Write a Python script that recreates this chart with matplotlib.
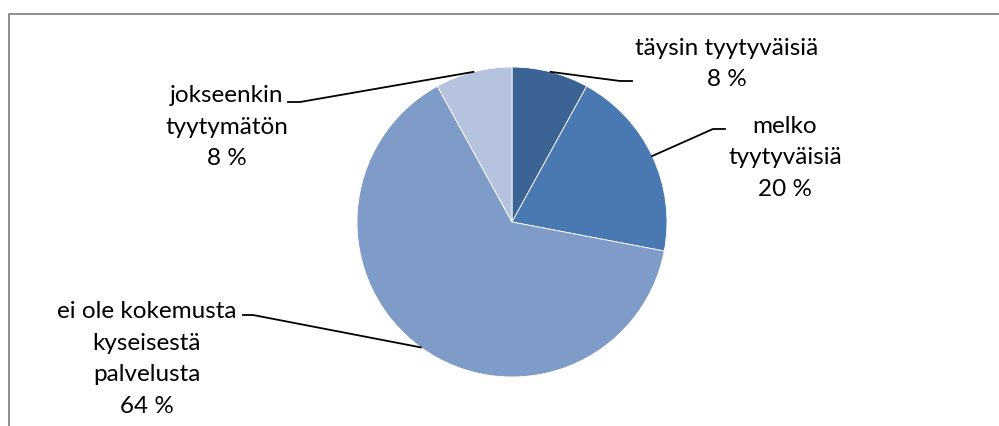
import matplotlib
matplotlib.use("Agg")
import matplotlib.pyplot as plt
import numpy as np

# datos del grafico
etiquetas = ["täysin tyytyväisiä", "melko\ntyytyväisiä",
             "ei ole kokemusta\nkyseisestä\npalvelusta", "jokseenkin\ntyytymätön"]
valores = [8, 20, 64, 8]
colores = ["#3B6494", "#4A78B2", "#7F9BC8", "#B5C3DE"]

# posiciones de las etiquetas (pixeles, y desde arriba) y codo de la linea guia
pos_texto = [(727, 64), (785, 158), (147, 359), (227, 127)]
codo = [[(632, 81), (620, 81)], [(725, 129), (713, 129)],
        [(243, 315), (253, 315)], [(288, 102), (300, 102)]]

W, H = 999, 426
plt.rcParams['font.family'] = ['Lato', 'DejaVu Sans']
fig = plt.figure(figsize=(W / 100, H / 100), dpi=100)
ax = fig.add_axes([0, 0, 1, 1])

# marco gris
ax.plot([8.5, 8.5, W + 5], [-5, H - 13.5, H - 13.5], color="#868686", lw=1.3)

cx, cy, r = 512, H - 222, 155
wedges, _ = ax.pie(valores, colors=colores, startangle=90, counterclock=False,
                   center=(cx, cy), radius=r, frame=True,
                   wedgeprops=dict(edgecolor="white", linewidth=0.6))
ax.set_xlim(0, W)
ax.set_ylim(0, H)
ax.set_aspect('equal')
ax.axis('off')

for w, lab, v, (tx, ty), pts in zip(wedges, etiquetas, valores, pos_texto, codo):
    ang = np.deg2rad((w.theta1 + w.theta2) / 2)
    px = cx + r * np.cos(ang)
    py = cy + r * np.sin(ang)
    xs = [p[0] for p in pts] + [px]
    ys = [H - p[1] for p in pts] + [py]
    ax.plot(xs, ys, color="black", lw=1.3)
    ax.text(tx, H - ty, lab + "\n" + str(v) + " %", ha="center", va="center",
            fontsize=17.5, linespacing=1.63, color="black")

fig.savefig("out.png", dpi=100)
